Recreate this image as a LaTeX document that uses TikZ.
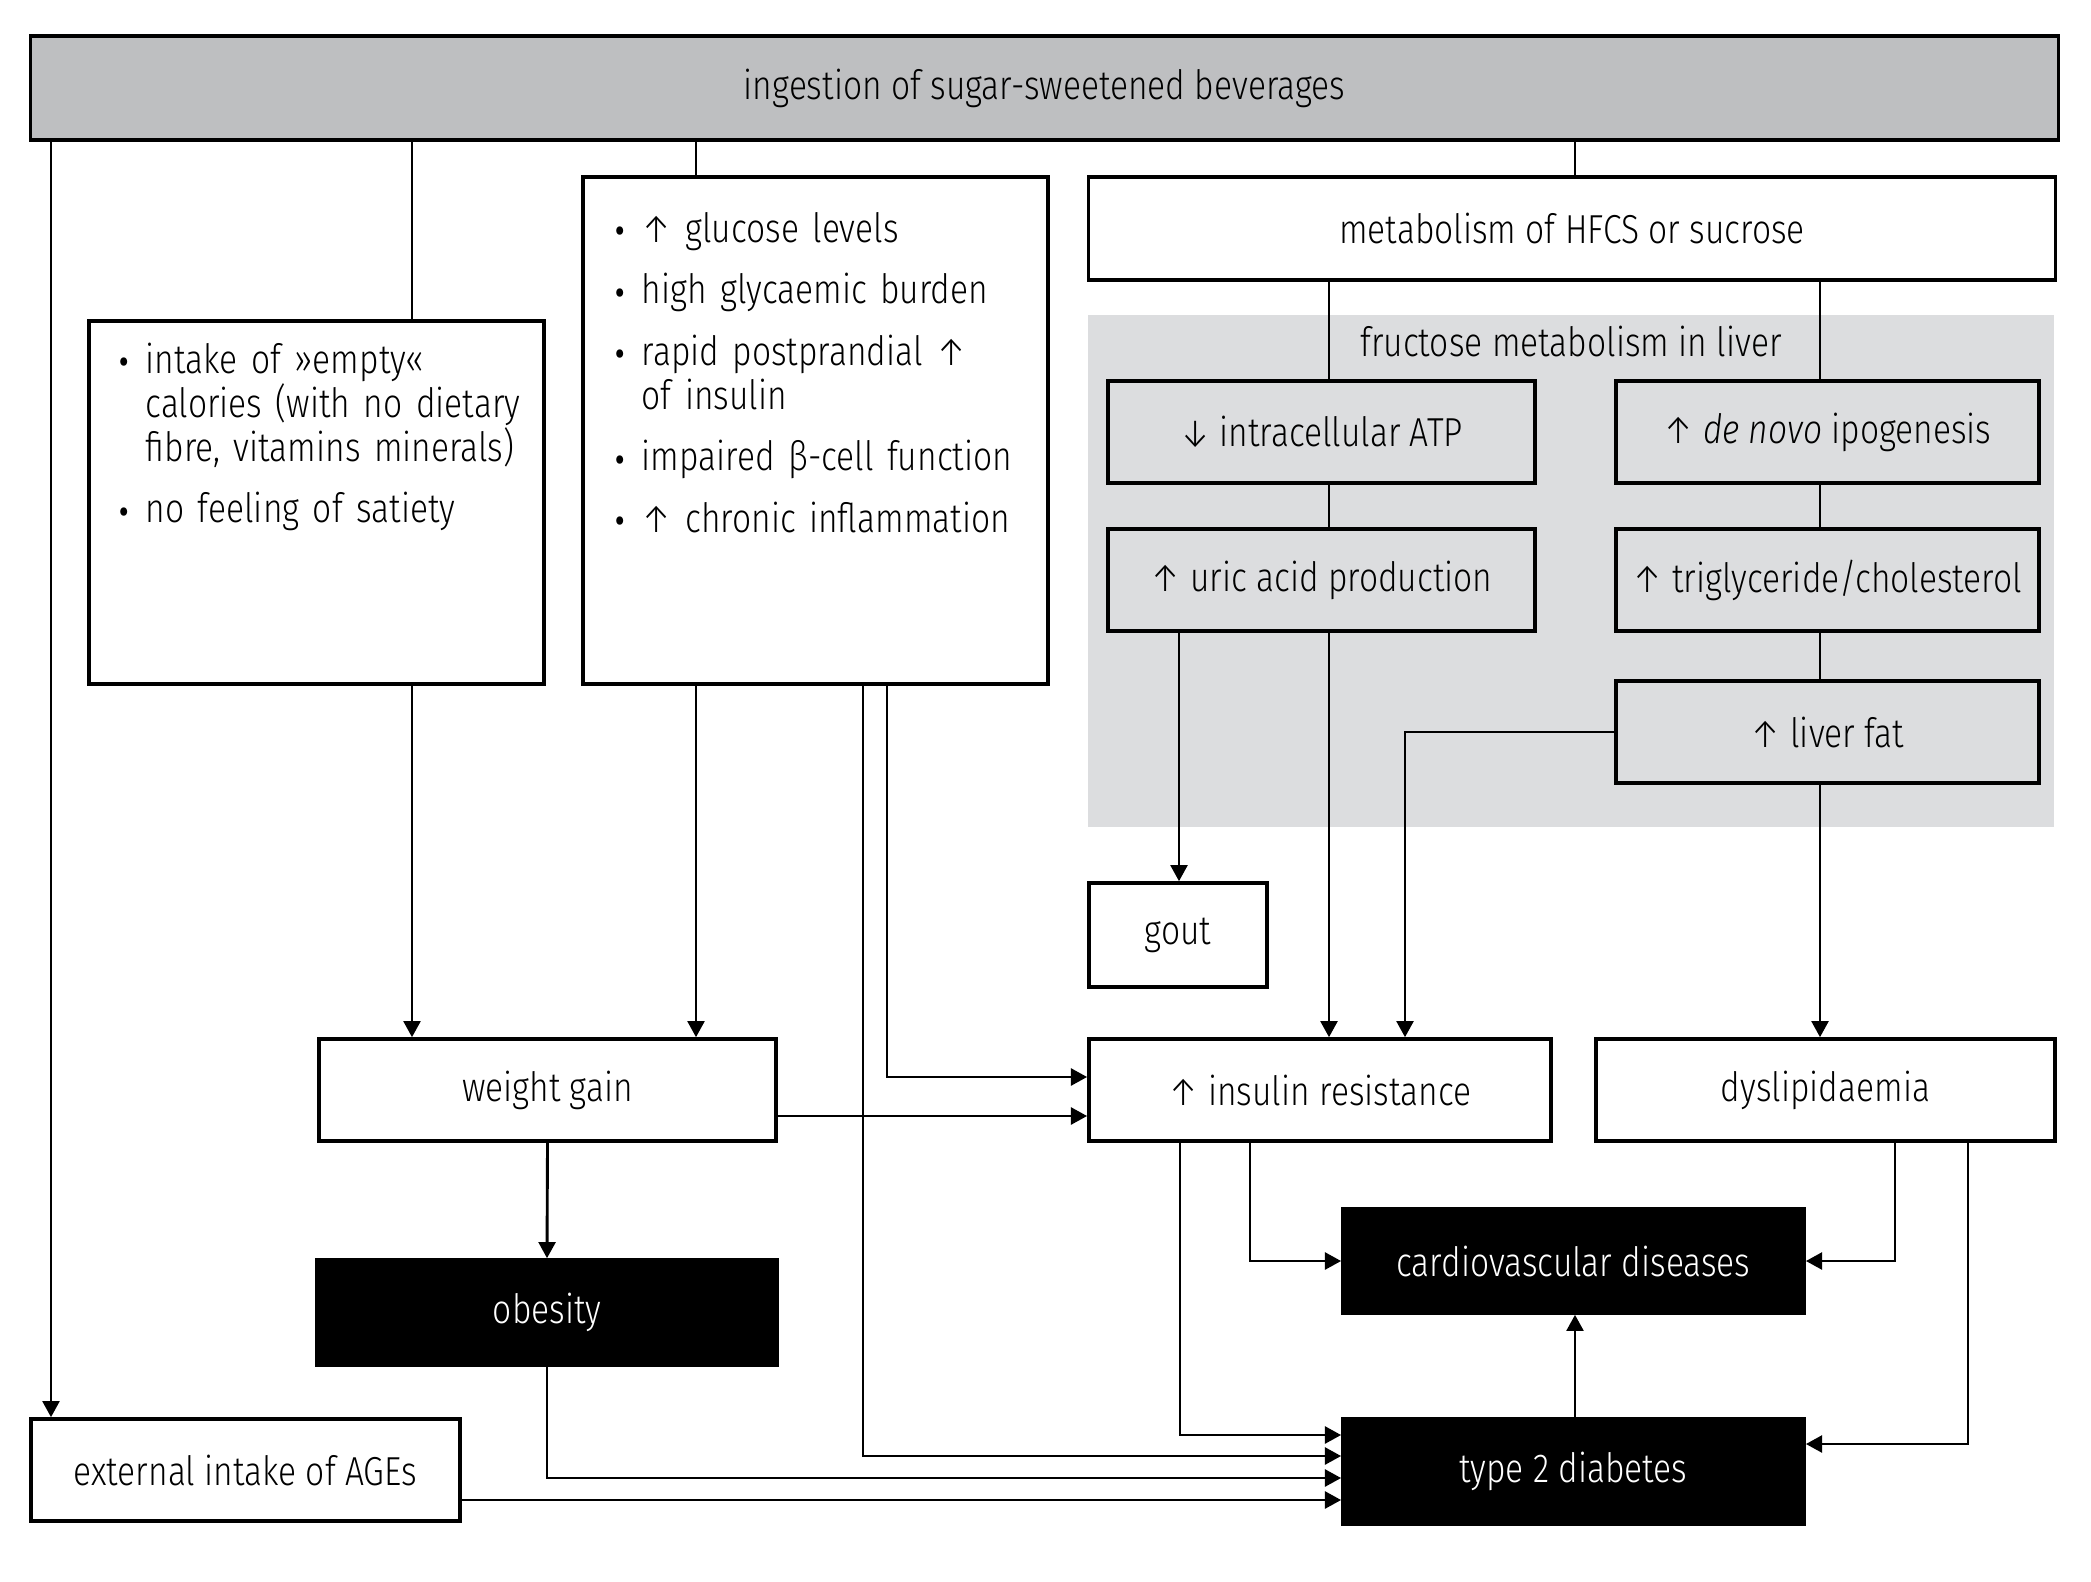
\documentclass[tikz,border=0pt]{standalone}
\usepackage{fontspec}
\setmainfont{Fira Sans Light}[ItalicFont={Fira Sans Light Italic}, FakeStretch=0.83]
\usetikzlibrary{arrows.meta,calc}
\definecolor{headgrey}{RGB}{190,191,193}
\definecolor{livergrey}{RGB}{220,221,223}
\newlength{\bulind}
\setlength{\bulind}{0.28cm}
\newcommand{\bulletitem}[1]{\par\noindent\hangindent=\bulind\hangafter=1\makebox[\bulind][l]{\smash{\raisebox{-2.4pt}{\fontsize{16}{16}\selectfont\textbullet}}}#1}
\begin{document}
\begin{tikzpicture}[x=0.01cm,y=-0.01cm,
  every node/.style={font=\fontsize{11.5}{12.5}\selectfont},
  box/.style={draw=black, line width=1pt, rectangle, inner sep=0pt, align=center, fill=white},
  greybox/.style={box, fill=livergrey},
  darkbox/.style={box, fill=black, text=white},
  link/.style={line width=0.82pt},
  arr/.style={line width=0.82pt, -{Triangle[length=4.6pt,width=4.8pt]}},
  listtext/.style={anchor=north west, inner sep=0pt, text width=6cm, align=left}]
\useasboundingbox (0,0) rectangle (2091,1582);

% top level cause
\node[box, fill=headgrey, minimum width=20.27cm, minimum height=1.04cm] (top) at (1044.5,88) {ingestion of sugar-sweetened beverages};

% first-level effects
\node[box, minimum width=4.55cm, minimum height=3.63cm] (intake) at (316.5,502.5) {};
\node[listtext] (intaketext) at (117,311) {\setlength{\parskip}{5pt}%
  \bulletitem{intake of »empty«\newline calories (with no dietary\newline fibre, vitamins minerals)}%
  \bulletitem{no feeling of satiety}};
\node[box, minimum width=4.65cm, minimum height=5.07cm] (glucose) at (815.5,430.5) {};
\node[listtext] (glucosetext) at (613,180) {\setlength{\parskip}{5pt}%
  \bulletitem{↑ glucose levels}%
  \bulletitem{high glycaemic burden}%
  \bulletitem{rapid postprandial ↑\newline of insulin}%
  \bulletitem{impaired β-cell function}%
  \bulletitem{↑ chronic inflammation}};
\node[box, minimum width=9.66cm, minimum height=1.03cm] (metab) at (1572,228.5) {metabolism of HFCS or sucrose};

% liver area
\node[fill=livergrey, inner sep=0pt, minimum width=9.66cm, minimum height=5.12cm] (liver) at (1571,571) {};
\node (liverlabel) at (1571,341) {fructose metabolism in liver};
\node[greybox, minimum width=4.27cm, minimum height=1.02cm] (atp) at (1321.5,432) {↓ intracellular ATP};
\node[greybox, minimum width=4.23cm, minimum height=1.02cm] (denovo) at (1827.5,432) {↑ \textit{de novo} ipogenesis};
\node[greybox, minimum width=4.27cm, minimum height=1.02cm] (uric) at (1321.5,580) {↑ uric acid production};
\node[greybox, minimum width=4.23cm, minimum height=1.02cm] (trig) at (1827.5,580) {↑ triglyceride/cholesterol};
\node[greybox, minimum width=4.23cm, minimum height=1.02cm] (liverfat) at (1827.5,732) {↑ liver fat};

% outcomes
\node[box, minimum width=1.78cm, minimum height=1.04cm] (gout) at (1178,935) {gout};
\node[box, minimum width=4.57cm, minimum height=1.02cm] (weight) at (547.5,1090) {weight gain};
\node[box, minimum width=4.62cm, minimum height=1.02cm] (insulin) at (1320,1090) {↑ insulin resistance};
\node[box, minimum width=4.59cm, minimum height=1.02cm] (dyslip) at (1825.5,1090) {dyslipidaemia};
\node[darkbox, minimum width=4.6cm, minimum height=1.05cm] (obesity) at (547,1312.5) {obesity};
\node[box, minimum width=4.29cm, minimum height=1.02cm] (ages) at (245.5,1470) {external intake of AGEs};
\node[darkbox, minimum width=4.61cm, minimum height=1.04cm] (cvd) at (1573.5,1261) {cardiovascular diseases};
\node[darkbox, minimum width=4.61cm, minimum height=1.05cm] (t2d) at (1573.5,1471.5) {type 2 diabetes};

% connector columns and bends
\coordinate (kA) at (51,0);
\coordinate (kB) at (412,0);
\coordinate (kC) at (696,0);
\coordinate (kD) at (1575,0);
\coordinate (kE) at (1329,0);
\coordinate (kF) at (1820,0);
\coordinate (kG) at (1179,0);
\coordinate (kH) at (1405,0);
\coordinate (kI) at (887,1077);
\coordinate (kJ) at (0,1116);
\coordinate (kK) at (863,1456);
\coordinate (kL) at (0,1478);
\coordinate (kM) at (0,1500);
\coordinate (kN) at (1180,1435);
\coordinate (kO) at (1250,0);
\coordinate (kP) at (1895,0);
\coordinate (kQ) at (1968,1444);

% branches from the top box
\draw[arr] (top.south -| kA) -- (ages.north -| kA);
\draw[link] (top.south -| kB) -- (intake.north -| kB);
\draw[link] (top.south -| kC) -- (glucose.north -| kC);
\draw[link] (top.south -| kD) -- (metab.north -| kD);

% liver chains
\draw[link] (metab.south -| kE) -- (atp.north -| kE);
\draw[link] (atp.south -| kE) -- (uric.north -| kE);
\draw[link] (metab.south -| kF) -- (denovo.north -| kF);
\draw[link] (denovo.south -| kF) -- (trig.north -| kF);
\draw[link] (trig.south -| kF) -- (liverfat.north -| kF);
\draw[arr] (uric.south -| kG) -- (gout.north -| kG);
\draw[arr] (uric.south -| kE) -- (insulin.north -| kE);
\draw[arr] (liverfat.west) -| (insulin.north -| kH);
\draw[arr] (liverfat.south -| kF) -- (dyslip.north -| kF);

% left side
\draw[arr] (intake.south -| kB) -- (weight.north -| kB);
\draw[arr] (glucose.south -| kC) -- (weight.north -| kC);
\draw[arr] (glucose.south -| kI) |- (insulin.west |- kI);
\draw[arr] (weight.east |- kJ) -- (insulin.west |- kJ);
\draw[arr] (glucose.south -| kK) |- (t2d.west |- kK);
\draw[arr] (weight.south) -- (obesity.north);
\draw[arr] (obesity.south) |- (t2d.west |- kL);
\draw[arr] (ages.east |- kM) -- (t2d.west |- kM);

% towards the diseases
\draw[arr] (insulin.south -| kN) |- (t2d.west |- kN);
\draw[arr] (insulin.south -| kO) |- (cvd.west);
\draw[arr] (dyslip.south -| kP) |- (cvd.east);
\draw[arr] (dyslip.south -| kQ) |- (t2d.east |- kQ);
\draw[arr] (t2d.north -| kD) -- (cvd.south -| kD);
\end{tikzpicture}
\end{document}
